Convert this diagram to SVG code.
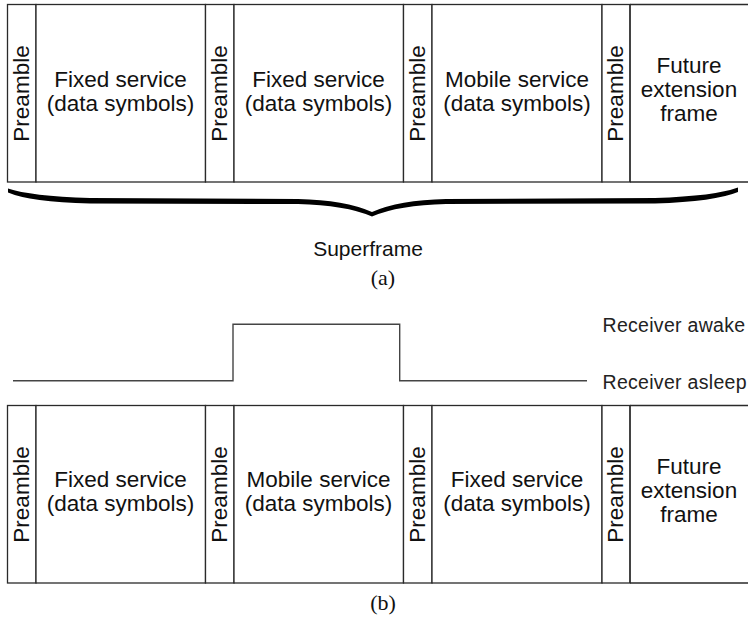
<svg xmlns="http://www.w3.org/2000/svg" width="748" height="621" viewBox="0 0 748 621">
<style>
.cell{fill:#fff;stroke:#2a2a2a;stroke-width:1.3}
.open{fill:none;stroke:#2a2a2a;stroke-width:1.3}
.t{font-family:"Liberation Sans",Arial,sans-serif;font-size:22.5px;fill:#111;text-anchor:middle}
.lbl{font-family:"Liberation Sans",Arial,sans-serif;font-size:19.5px;fill:#222;letter-spacing:0.3px}
.cap{font-family:"Liberation Serif","Times New Roman",serif;font-size:22px;fill:#111;text-anchor:middle}
.wave{fill:none;stroke:#444;stroke-width:1.4}
</style>
<rect width="748" height="621" fill="#fff"/>

<!-- (a) superframe -->
<g id="a-pre1"><rect class="cell" x="7.5" y="4.5" width="28.5" height="177.5"/><text class="t" transform="translate(29,93.5) rotate(-90)">Preamble</text></g>
<g id="a-fixed1"><rect class="cell" x="36" y="4.5" width="169.5" height="177.5"/><text class="t" x="120.5" y="87">Fixed service</text><text class="t" x="120.5" y="111">(data symbols)</text></g>
<g id="a-pre2"><rect class="cell" x="205.5" y="4.5" width="28.5" height="177.5"/><text class="t" transform="translate(227,93.5) rotate(-90)">Preamble</text></g>
<g id="a-fixed2"><rect class="cell" x="234" y="4.5" width="169.5" height="177.5"/><text class="t" x="318.5" y="87">Fixed service</text><text class="t" x="318.5" y="111">(data symbols)</text></g>
<g id="a-pre3"><rect class="cell" x="403.5" y="4.5" width="28.5" height="177.5"/><text class="t" transform="translate(425,93.5) rotate(-90)">Preamble</text></g>
<g id="a-mobile"><rect class="cell" x="432" y="4.5" width="170" height="177.5"/><text class="t" x="517" y="87">Mobile service</text><text class="t" x="517" y="111">(data symbols)</text></g>
<g id="a-pre4"><rect class="cell" x="602" y="4.5" width="28" height="177.5"/><text class="t" transform="translate(623,93.5) rotate(-90)">Preamble</text></g>
<g id="a-future"><path class="open" d="M630,4.5 H748 M630,182 H748 M630,4.5 V182"/><text class="t" x="689" y="72.5">Future</text><text class="t" x="689" y="96.5">extension</text><text class="t" x="689" y="120.5">frame</text></g>

<g id="brace">
<path fill="#000" d="M8,188.5 Q30,196 90,198 L298,199 Q345,200 372,212 Q399,200 446,199 L655,198 Q715,196 738,187.5 L738,192 Q715,201.5 655,203.5 L446,204 Q399,205 372,216.5 Q345,205 298,204 L90,203.5 Q30,202 8,192.5 Z"/>
</g>
<g id="superframe-label"><text class="t" x="368" y="256" style="font-size:21px">Superframe</text></g>
<text class="cap" x="383" y="285">(a)</text>

<!-- (b) receiver state -->
<g id="connectors">
<path class="wave" d="M13,380.7 H233 V324.3 H399.7 V380.7 H587"/>
</g>
<g id="state-labels">
<text class="lbl" x="602.5" y="332">Receiver awake</text>
<text class="lbl" x="602.5" y="388.5">Receiver asleep</text>
</g>

<g id="b-pre1"><rect class="cell" x="7.5" y="405.5" width="28.5" height="177.5"/><text class="t" transform="translate(29,494.5) rotate(-90)">Preamble</text></g>
<g id="b-fixed1"><rect class="cell" x="36" y="405.5" width="169.5" height="177.5"/><text class="t" x="120.5" y="486.5">Fixed service</text><text class="t" x="120.5" y="510.5">(data symbols)</text></g>
<g id="b-pre2"><rect class="cell" x="205.5" y="405.5" width="28.5" height="177.5"/><text class="t" transform="translate(227,494.5) rotate(-90)">Preamble</text></g>
<g id="b-mobile"><rect class="cell" x="234" y="405.5" width="169.5" height="177.5"/><text class="t" x="318.5" y="486.5">Mobile service</text><text class="t" x="318.5" y="510.5">(data symbols)</text></g>
<g id="b-pre3"><rect class="cell" x="403.5" y="405.5" width="28.5" height="177.5"/><text class="t" transform="translate(425,494.5) rotate(-90)">Preamble</text></g>
<g id="b-fixed2"><rect class="cell" x="432" y="405.5" width="170" height="177.5"/><text class="t" x="517" y="486.5">Fixed service</text><text class="t" x="517" y="510.5">(data symbols)</text></g>
<g id="b-pre4"><rect class="cell" x="602" y="405.5" width="28" height="177.5"/><text class="t" transform="translate(623,494.5) rotate(-90)">Preamble</text></g>
<g id="b-future"><path class="open" d="M630,405.5 H748 M630,583 H748 M630,405.5 V583"/><text class="t" x="689" y="473.5">Future</text><text class="t" x="689" y="497.5">extension</text><text class="t" x="689" y="521.5">frame</text></g>
<text class="cap" x="383" y="610">(b)</text>
</svg>
